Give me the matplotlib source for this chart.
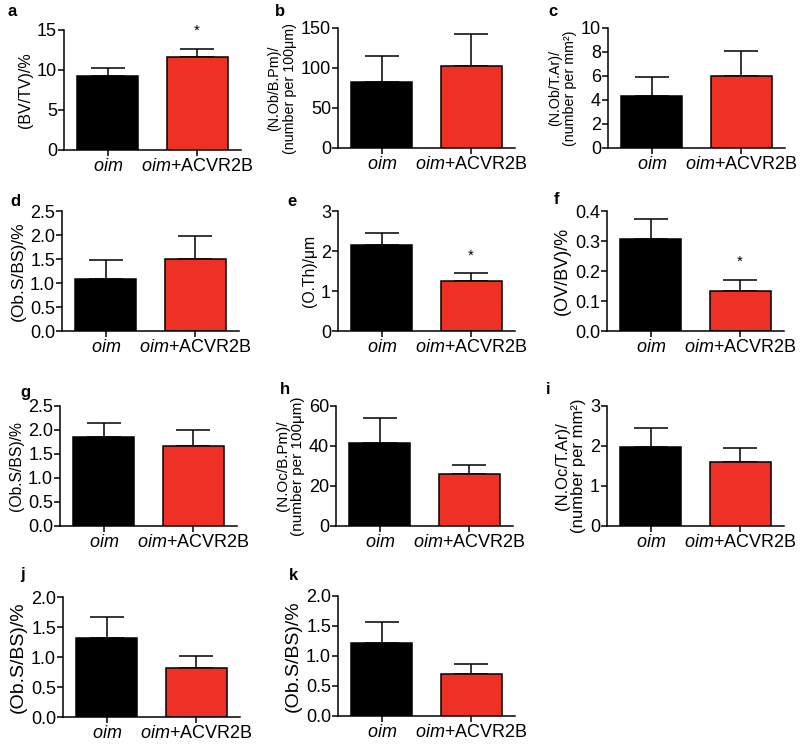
import numpy as np
import matplotlib
matplotlib.use("Agg")
import matplotlib.pyplot as plt
from matplotlib.ticker import FormatStrFormatter

plt.rcParams['font.family'] = ['Liberation Sans', 'DejaVu Sans']
plt.rcParams['mathtext.fontset'] = 'custom'
plt.rcParams['mathtext.it'] = 'Liberation Sans:italic'
plt.rcParams['mathtext.rm'] = 'Liberation Sans'

# chart data
panels = ['a', 'b', 'c', 'd', 'e', 'f', 'g', 'h', 'i', 'j', 'k']
groups = ['$\\it{oim}$', '$\\it{oim}$+ACVR2B']
ylabels = ['(BV/TV)/%',
           '(N.Ob/B.Pm)/\n(number per 100μm)',
           '(N.Ob/T.Ar)/\n(number per mm²)',
           '(Ob.S/BS)/%',
           '(O.Th)/μm',
           '(OV/BV)/%',
           '(Ob.S/BS)/%',
           '(N.Oc/B.Pm)/\n(number per 100μm)',
           '(N.Oc/T.Ar)/\n(number per mm²)',
           '(Ob.S/BS)/%',
           '(Ob.S/BS)/%']
mean_oim = [9.25, 83, 4.36, 1.09, 2.15, 0.308, 1.86, 41.3, 1.98, 1.31, 1.21]
sem_oim = [0.95, 32, 1.55, 0.38, 0.30, 0.064, 0.29, 12.5, 0.46, 0.35, 0.35]
mean_acv = [11.6, 103, 6.0, 1.49, 1.26, 0.134, 1.67, 25.8, 1.61, 0.81, 0.70]
sem_acv = [1.0, 39, 2.1, 0.49, 0.20, 0.036, 0.34, 4.7, 0.34, 0.21, 0.16]
ymax = [15, 150, 10, 2.5, 3, 0.4, 2.5, 60, 3, 2.0, 2.0]
ystep = [5, 50, 2, 0.5, 1, 0.1, 0.5, 20, 1, 0.5, 0.5]
star_y = [14.9, None, None, None, 1.87, 0.23, None, None, None, None, None]

# layout (pixels on an 800x745 canvas)
W, H = 800, 745
ax_left = [64, 338, 608, 62, 338, 607, 60, 336, 607, 63, 338]
ax_bottom = [150, 148, 148, 331, 331, 331, 526, 526, 526, 717, 716]
ax_w, ax_h = 177, 120
letter_xy = [(12, 12), (280, 12), (553, 12), (15, 202), (292, 202), (557, 200),
             (25, 392), (285, 390), (548, 390), (22, 575), (293, 575)]
ylab_size = [11.5, 10.3, 10.3, 12.5, 11.3, 13, 11.3, 11, 12, 14, 14]
decimals = [0, 0, 0, 1, 0, 1, 1, 0, 0, 1, 1]

red = '#ee3124'
fig = plt.figure(figsize=(W / 100, H / 100), dpi=100)

for n, p in enumerate(panels):
    ax = fig.add_axes([ax_left[n] / W, 1 - ax_bottom[n] / H, ax_w / W, ax_h / H])
    x = np.arange(2)
    ax.errorbar(x, [mean_oim[n], mean_acv[n]],
                yerr=[[0, 0], [sem_oim[n], sem_acv[n]]],
                fmt='none', ecolor='black', elinewidth=1.1, capsize=12,
                capthick=1.1, zorder=1)
    ax.bar(x, [mean_oim[n], mean_acv[n]], width=0.68,
           color=['black', red], edgecolor='black', linewidth=1.1, zorder=2)
    if star_y[n] is not None:
        ax.text(1, star_y[n], '*', ha='center', va='center', fontsize=11)
    ax.set_xlim(-0.49, 1.49)
    ax.set_ylim(0, ymax[n])
    ax.set_yticks(np.arange(0, ymax[n] + ystep[n] / 2, ystep[n]))
    if decimals[n]:
        ax.yaxis.set_major_formatter(FormatStrFormatter('%.1f'))
    ax.set_xticks(x)
    ax.set_xticklabels(groups, fontsize=13)
    ax.set_ylabel(ylabels[n], fontsize=ylab_size[n], labelpad=3, linespacing=1.1)
    ax.tick_params(axis='y', labelsize=13, length=4, width=1.1, pad=1)
    ax.tick_params(axis='x', length=4, width=1.1, pad=2)
    for s in ['top', 'right']:
        ax.spines[s].set_visible(False)
    for s in ['left', 'bottom']:
        ax.spines[s].set_linewidth(1.1)
    fig.text(letter_xy[n][0] / W, 1 - letter_xy[n][1] / H, p,
             fontsize=12, fontweight='bold', ha='center', va='center')

fig.savefig('out.png', dpi=100)
